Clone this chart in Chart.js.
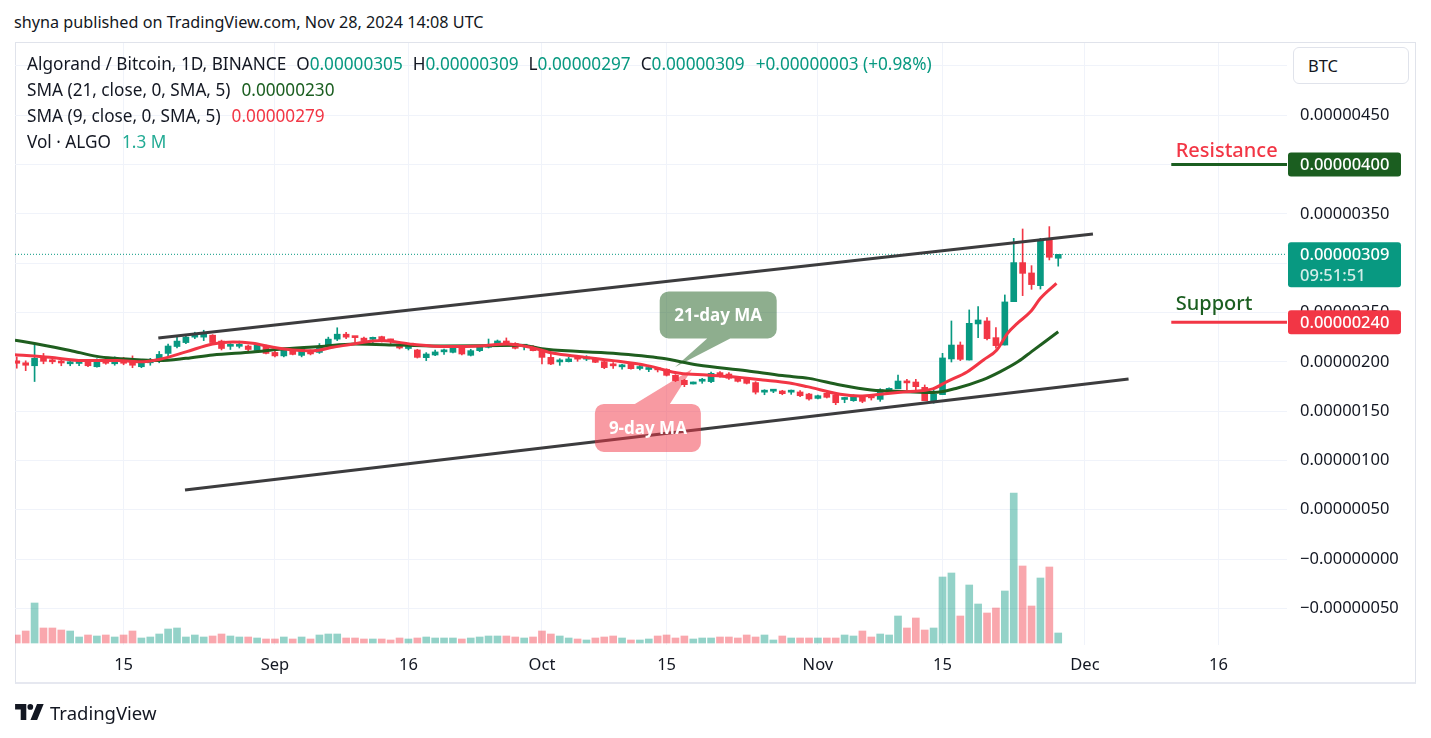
<!DOCTYPE html>
<html><head><meta charset="utf-8">
<script src="https://cdn.jsdelivr.net/npm/chart.js@4.4.1/dist/chart.umd.min.js"></script>
<style>
html,body{margin:0;padding:0;background:#fff;}
body{width:1431px;height:738px;position:relative;overflow:hidden;font-family:"Noto Sans",sans-serif;color:#131722;}
#hdr{position:absolute;left:14px;top:10px;font-size:16.2px;line-height:24px;white-space:nowrap;}
#frame{position:absolute;left:15px;top:42px;width:1401px;height:642px;box-sizing:border-box;border:1px solid #e0e3eb;border-bottom:2px solid #e6e8f0;}
#c{position:absolute;left:0;top:0;}
#legend{position:absolute;left:27px;top:51px;font-size:17.2px;line-height:26px;white-space:nowrap;}
#legend .k{margin-left:10px;}
#legend .up{color:#089981;}
#legend .sp{margin-left:11px;}
#legend .g{color:#1b5e20;margin-left:11px;}
#legend .r{color:#f23645;margin-left:11px;}
#legend .v{color:#22ab94;margin-left:11px;}
#btc{position:absolute;left:1293px;top:47px;width:116px;height:37px;box-sizing:border-box;border:1px solid #e0e3eb;border-radius:6px;background:#fff;font-size:16.5px;line-height:35px;padding-left:14px;}
#footer{position:absolute;left:15px;top:700px;height:24px;display:flex;align-items:center;font-size:18.5px;}
#footer svg{margin-right:6px;}
</style></head>
<body>
<div id="hdr">shyna published on TradingView.com, Nov 28, 2024 14:08 UTC</div>
<div id="frame"></div>
<canvas id="c" width="1431" height="738"></canvas>
<div id="legend">
<div><span>Algorand / Bitcoin, 1D, BINANCE</span><span class="k">O</span><span class="up">0.00000305</span><span class="k">H</span><span class="up">0.00000309</span><span class="k">L</span><span class="up">0.00000297</span><span class="k">C</span><span class="up">0.00000309</span><span class="up sp">+0.00000003 (+0.98%)</span></div>
<div>SMA (21, close, 0, SMA, 5)<span class="g">0.00000230</span></div>
<div>SMA (9, close, 0, SMA, 5)<span class="r">0.00000279</span></div>
<div>Vol · ALGO<span class="v">1.3 M</span></div>
</div>
<div id="btc">BTC</div>
<div id="footer"><svg width="29" height="16" viewBox="0 0 36 20"><path d="M14 20H7V7H0V0h14z" fill="#131722"/><circle cx="19" cy="3.6" r="3.6" fill="#131722"/><path d="M27.5 20h-8.3L27.4 0h8.3z" fill="#131722"/></svg><span>TradingView</span></div>
<script>
// ---- data (prices in units of 1e-8 BTC; day 0 = Aug 1, 2024) ----
const startDay = 2; // first visible daily candle: Aug 3, 2024
const opens = [201,199,196,204.5,201.2,199.5,198,198.3,199.5,195,202,198,203,201,195,199,201,208.5,215.5,219.5,225,225,227,221,215.7,215.7,216,211.5,216,209.5,206,212,206.5,211,209.5,215.5,223,228,225,224,222.8,225.5,221.8,218,213.5,212,204.2,206.9,210.1,209.6,214.7,206.6,211.3,214.7,216.4,221.1,218.7,215.8,215.4,212,204.5,199.9,200.1,203.1,202.7,202.9,200.1,196.3,194.9,197.4,193.2,192.2,192.2,192.4,186.3,181.2,177.5,180.3,179.9,189,187.6,184.3,182.2,178.9,169.2,170.2,170.4,169.2,169.4,167.3,162.9,168,166.3,161.8,160.6,165.3,163.8,161.9,169,172.7,179,179.5,174.1,159.9,166.7,202.9,217,201.8,238.4,241.4,224.5,217,261,300.6,290.1,277.2,323.5,305];
const highs = [205,201,218,208.5,204,202,201,201,202,203,203.5,205,204.5,206,202,203.5,210.5,218,225.5,226,230,232,227.5,222,218.5,221,217,218.5,217,211,213.5,213,213.5,212,218.5,225,234.5,230,225.5,225,225,226,223,219,217,212.7,209.3,212,213,215.4,216,212.7,216.7,223.1,222.1,224.2,219.4,217.7,216.4,213.7,207.6,203.2,204.5,205.2,206.2,204.5,201.2,199.1,197.4,198.5,196.8,195.1,194.4,193,187,182.2,179.5,183.2,189.7,190,189,185,182.9,179.9,171.7,172.1,171.1,171.4,170.7,168,166.3,168.7,167.3,164,166.6,166,166.6,172.7,173.7,186.6,182.2,182.2,176.5,171.4,208.6,241.4,220.1,252.6,255.9,244.8,234.6,267.8,325.2,334.7,297.5,325.2,337.1,309];
const lows = [193.5,191,180,198,198,196,196,196,195,194.5,197.5,196.5,197,194,194,196.5,199,205,214,218.5,223.5,221.5,218.5,212,212.5,214,210.5,210.5,208,205,205,207,205,207,208.5,214,221.5,223.5,220,219.5,219.5,220,218.5,213,212,203.8,201.2,206.2,207.6,208.9,206.9,205.9,210.3,214,215.4,216.7,213,212,211,197.8,197.1,196.4,199.8,200.5,201.2,199.1,193,193.4,192.4,192.4,191.7,190,189.7,185.6,179.9,174.8,177.5,178.2,178.9,184.3,182.2,179.5,177.5,167.3,166.6,168.7,166.6,167,164.6,161.2,162.3,163.3,156.5,158.5,159.9,158.5,161.2,159.9,167.7,172.7,171.4,169.4,160.6,158,166.7,199.8,201.2,201.8,224.5,222.1,213.7,217,261,267.1,273.5,273.8,303.3,297];
const closes = [198.5,196.5,203.5,200.5,200,198.8,198.5,198.8,196,200.5,198.5,203,198.5,196.5,200,202.5,207.5,216,221,225,226,229.5,219.5,213.5,216.3,216.3,212.5,217,208.5,206,212,207.5,212.5,208,215.5,223,228,225,224.5,221.5,223.3,221,221.2,214,214,204.5,207.9,210,210.5,214.7,207.9,211.3,215.4,217.7,221.1,217.7,213.7,216.2,211.3,204.5,197.8,200.3,202.9,202.7,203.1,199.5,194.1,195.9,195.3,193,193.6,192.6,191.8,186.3,180.9,176.8,179.5,180.7,188.3,185,183.3,180.2,178.2,169.2,169.7,170.6,167.7,169.6,165.6,162.3,165.6,164,158.5,162.1,164,159.9,163.4,171.7,173.1,180.5,178.6,174.8,160.6,167,203.9,217,202.5,239,242.4,223.5,216.4,260.7,300.6,289.7,278.3,322.9,306,309];
// volume, millions of ALGO
const volumes = [1.04,1.56,5.2,1.95,1.95,1.69,1.56,0.78,1.04,0.91,1.04,0.78,1.04,1.56,0.65,0.78,1.17,1.82,1.95,0.78,1.04,0.78,0.91,1.17,0.91,0.78,0.78,0.65,0.52,0.52,0.78,0.52,0.78,0.52,1.04,1.17,1.17,0.65,0.65,0.52,0.52,0.52,0.39,0.65,0.52,0.65,0.78,0.65,0.65,0.65,0.52,0.65,0.78,0.91,0.91,0.91,0.78,0.65,0.78,1.56,1.17,0.91,0.65,0.52,0.39,0.65,0.78,0.91,0.65,0.39,0.39,0.52,0.91,1.04,0.65,0.91,0.52,0.65,0.65,0.78,0.78,0.65,1.04,0.78,1.04,0.39,0.91,0.65,0.65,0.65,0.65,0.65,0.65,1.04,0.91,1.56,0.78,1.17,1.04,3.51,1.95,3.25,1.69,1.95,8.58,9.1,3.51,7.54,5.07,3.9,4.55,6.76,19.5,10.01,4.81,8.45,9.88,1.3];
// SMA lines (day, value)
const ma21Days = [1.8,4,8,11,13,16,18,21,24,28.5,31.5,36,40,45,50,58.5,61.5,69,74.5,78.5,84,88,91,94.5,98,102,105,107.5,110.5,112.5,114.5,116,119];
const ma21Vals = [222,218.5,211.5,205.5,203.5,201.8,201.2,203.5,207,210,212.7,215.4,218,217,216,216.7,212.7,208.6,203.5,196.8,191,186,183.2,176.4,171.4,169.7,168.8,173,181.6,190,200.2,210.3,230.5];
const ma9Days = [1.8,5.7,9.4,13.3,16.2,18.1,21.1,24,26.3,28.5,30.8,33,35.3,37.5,39.8,43,46.5,50.3,54,57.1,59.7,62.3,65.3,69,72.8,76.5,79.5,82.1,85.8,88.8,90.8,94.5,96.7,99,102,104.9,106.5,108.8,110.6,112.1,113.3,114.4,115.9,117,118.8];
const ma9Vals = [207.2,204.5,201.2,201.2,200.1,202.5,210.3,218.1,220.1,218.7,214.7,212,211.3,214.7,218.1,221.5,217.7,215.4,216,218.1,214.7,208.6,205.2,201.2,196.1,188.3,186.6,185,181.6,178.5,174.8,167,165.3,167,169.7,172.5,179.9,190,201.9,212,228.9,239,250.9,264.4,279.6];
// channel trend lines (day, value)
const upperDays = [17.9,122.9], upperVals = [224.1,329.6];
const lowerDays = [20.9,126.9], lowerVals = [70,182.6];
const levelDays = [131.7,144.7];
const resistanceLevel = 400, supportLevel = 240, lastPrice = 309;
// axis ticks
const tickDays = [14,31,46,61,75,92,106,122,137];
const tickLabels = ['15','Sep','16','Oct','15','Nov','15','Dec','16'];
const priceTicks = [-50,0,50,100,150,200,250,300,350,400,450,500];

// ---- build ----
const X_MIN = 1.8, X_MAX = 144.7;
const UP = '#089981', DN = '#f23645';
const candleDays = opens.map((_, i) => startDay + i);
const isUp = closes.map((c, i) => c >= opens[i]);
const fmt = v => (v <= 0 ? '\u2212' : '') + (Math.abs(v) / 1e8).toFixed(8);

const annotations = {
  callouts: [
    {text:'21-day MA', color:'rgba(30,93,30,0.5)', boxDay:80.8, boxVal:247.5, w:117, h:47, side:'bottom', b0:-11, b1:12, tipDay:75.96, tipVal:194.7},
    {text:'9-day MA', color:'rgba(242,54,69,0.5)', boxDay:72.9, boxVal:132.9, w:106, h:48, side:'top', b0:-13, b1:22, tipDay:77.87, tipVal:192.7}
  ],
  texts: [
    {text:'Resistance', color:'#f23645', day:132.2, val:413.8},
    {text:'Support', color:'#1b5e20', day:132.2, val:258.6}
  ],
  axisLabels: [
    {val:resistanceLevel, bg:'#1b5e20', lines:[fmt(resistanceLevel)]},
    {val:lastPrice, bg:'#089981', lines:[fmt(lastPrice), '09:51:51']},
    {val:supportLevel, bg:'#f23645', lines:[fmt(supportLevel)]}
  ]
};

function calloutPath(ctx, x, y, w, h, r, side, bx0, bx1, tx, ty) {
  ctx.beginPath();
  ctx.moveTo(x + r, y);
  if (side === 'top') { ctx.lineTo(bx0, y); ctx.lineTo(tx, ty); ctx.lineTo(bx1, y); }
  ctx.lineTo(x + w - r, y);
  ctx.arcTo(x + w, y, x + w, y + r, r);
  ctx.lineTo(x + w, y + h - r);
  ctx.arcTo(x + w, y + h, x + w - r, y + h, r);
  if (side === 'bottom') { ctx.lineTo(bx1, y + h); ctx.lineTo(tx, ty); ctx.lineTo(bx0, y + h); }
  ctx.lineTo(x + r, y + h);
  ctx.arcTo(x, y + h, x, y + h - r, r);
  ctx.lineTo(x, y + r);
  ctx.arcTo(x, y, x + r, y, r);
  ctx.closePath();
}

const overlay = {
  id: 'overlay',
  afterDatasetsDraw(chart) {
    const ctx = chart.ctx, xs = chart.scales.x, ys = chart.scales.y;
    ctx.save();
    annotations.callouts.forEach(c => {
      const cx = xs.getPixelForValue(c.boxDay), cy = ys.getPixelForValue(c.boxVal);
      const tx = xs.getPixelForValue(c.tipDay), ty = ys.getPixelForValue(c.tipVal);
      calloutPath(ctx, cx - c.w / 2, cy - c.h / 2, c.w, c.h, 9, c.side, cx + c.b0, cx + c.b1, tx, ty);
      ctx.fillStyle = c.color; ctx.fill();
      ctx.fillStyle = '#fff'; ctx.font = 'bold 17px "Noto Sans", sans-serif';
      ctx.textAlign = 'center'; ctx.textBaseline = 'middle';
      ctx.fillText(c.text, cx, cy + 1);
    });
    annotations.texts.forEach(t => {
      ctx.fillStyle = t.color; ctx.font = '500 20px "Noto Sans", sans-serif';
      ctx.textAlign = 'left'; ctx.textBaseline = 'middle';
      ctx.fillText(t.text, xs.getPixelForValue(t.day), ys.getPixelForValue(t.val));
    });
    ctx.restore();
  },
  afterDraw(chart) {
    const ctx = chart.ctx, ys = chart.scales.y, area = chart.chartArea;
    ctx.save();
    annotations.axisLabels.forEach(l => {
      const y = ys.getPixelForValue(l.val);
      const x0 = area.right + 1, w = 113, lh = 21;
      const top = y - 12, h = 24 + (l.lines.length - 1) * lh;
      ctx.beginPath(); ctx.roundRect(x0, top, w, h, 3);
      ctx.fillStyle = l.bg; ctx.fill();
      ctx.font = '500 16.5px "Noto Sans", sans-serif';
      ctx.textAlign = 'left'; ctx.textBaseline = 'middle';
      l.lines.forEach((s, i) => {
        ctx.fillStyle = i === 0 ? '#ffffff' : 'rgba(255,255,255,0.82)';
        ctx.fillText(s, area.right + 13, y + 1 + i * lh);
      });
    });
    ctx.restore();
  }
};

Chart.defaults.font.family = '"Noto Sans", sans-serif';
new Chart(document.getElementById('c'), {
  type: 'bar',
  data: {
    datasets: [
      {type:'bar', label:'Volume', yAxisID:'yv', order:10, grouped:false, barThickness:7,
       data: candleDays.map((d, i) => ({x:d, y:volumes[i]})),
       backgroundColor: isUp.map(u => u ? 'rgba(8,153,129,0.44)' : 'rgba(242,54,69,0.44)')},
      {type:'line', label:'Last', yAxisID:'y', order:9, borderColor:UP, borderWidth:1, borderDash:[1,2], pointRadius:0,
       data: [{x:X_MIN, y:lastPrice}, {x:X_MAX, y:lastPrice}]},
      {type:'bar', label:'Wicks', yAxisID:'y', order:7, grouped:false, barThickness:1,
       data: candleDays.map((d, i) => ({x:d, y:[lows[i], highs[i]]})),
       backgroundColor: isUp.map(u => u ? UP : DN)},
      {type:'bar', label:'Bodies', yAxisID:'y', order:6, grouped:false, barThickness:6, minBarLength:2,
       data: candleDays.map((d, i) => ({x:d, y:[Math.min(opens[i], closes[i]), Math.max(opens[i], closes[i])]})),
       backgroundColor: isUp.map(u => u ? UP : DN)},
      {type:'line', label:'SMA 21', yAxisID:'y', order:4, borderColor:'#1f5e1f', borderWidth:3, pointRadius:0, cubicInterpolationMode:'monotone',
       data: ma21Days.map((d, i) => ({x:d, y:ma21Vals[i]}))},
      {type:'line', label:'SMA 9', yAxisID:'y', order:3, borderColor:'#f23645', borderWidth:3, pointRadius:0, cubicInterpolationMode:'monotone',
       data: ma9Days.map((d, i) => ({x:d, y:ma9Vals[i]}))},
      {type:'line', label:'Upper', yAxisID:'y', order:2, borderColor:'#3c3c3e', borderWidth:3, pointRadius:0,
       data: upperDays.map((d, i) => ({x:d, y:upperVals[i]}))},
      {type:'line', label:'Lower', yAxisID:'y', order:2, borderColor:'#3c3c3e', borderWidth:3, pointRadius:0,
       data: lowerDays.map((d, i) => ({x:d, y:lowerVals[i]}))},
      {type:'line', label:'Resistance', yAxisID:'y', order:1, borderColor:'#1b5e20', borderWidth:3, pointRadius:0,
       data: levelDays.map(d => ({x:d, y:resistanceLevel}))},
      {type:'line', label:'Support', yAxisID:'y', order:1, borderColor:'#f23645', borderWidth:3, pointRadius:0,
       data: levelDays.map(d => ({x:d, y:supportLevel}))}
    ]
  },
  options: {
    responsive:false, animation:false, events:[],
    layout:{padding:{left:15, top:43, right:16, bottom:53}},
    plugins:{legend:{display:false}, tooltip:{enabled:false}},
    scales:{
      x:{type:'linear', position:'bottom', min:X_MIN, max:X_MAX, offset:false,
         grid:{color:'#f0f3fa', drawTicks:false, offset:false}, border:{display:false},
         afterBuildTicks: s => { s.ticks = tickDays.map(v => ({value:v})); },
         afterFit: s => { s.height = 40; },
         ticks:{autoSkip:false, maxRotation:0, padding:10, color:'#131722', font:{size:16.5},
                callback: v => tickLabels[tickDays.indexOf(v)] ?? ''}},
      y:{type:'linear', position:'right', min:-87.2, max:523.3,
         grid:{color:'#f0f3fa', drawTicks:false}, border:{display:false},
         afterBuildTicks: s => { s.ticks = priceTicks.map(v => ({value:v})); },
         afterFit: s => { s.width = 128; },
         ticks:{padding:13, color:'#131722', font:{size:16.5}, callback: v => fmt(v)}},
      yv:{type:'linear', display:false, min:-0.26, max:78}
    }
  },
  plugins:[overlay]
});
</script>
</body></html>
